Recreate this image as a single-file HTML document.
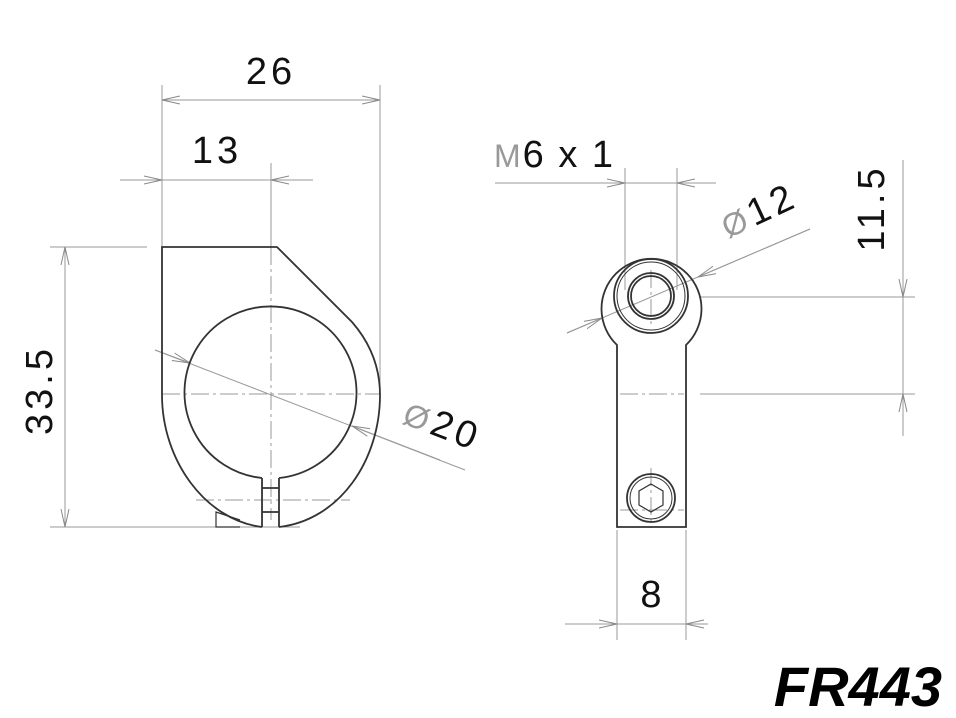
<!DOCTYPE html>
<html><head><meta charset="utf-8"><style>html,body{margin:0;padding:0;background:#fff}svg{display:block}</style></head><body>
<svg width="956" height="718" viewBox="0 0 956 718" xmlns="http://www.w3.org/2000/svg" font-family="Liberation Sans, sans-serif">
<defs>
<marker id="a" markerWidth="20" markerHeight="12" refX="18" refY="6" orient="auto-start-reverse" markerUnits="userSpaceOnUse"><path d="M0,2 L18,6 L0,10" fill="none" stroke="#888" stroke-width="1"/></marker>
</defs>
<g stroke="#999" stroke-width="1" fill="none">
<line x1="162" y1="85" x2="162" y2="247"/><line x1="380" y1="85" x2="380" y2="395"/>
<line x1="162" y1="100" x2="380" y2="100" marker-start="url(#a)" marker-end="url(#a)"/>
<line x1="120" y1="180" x2="162" y2="180" marker-end="url(#a)"/>
<line x1="313" y1="180" x2="271" y2="180" marker-end="url(#a)"/>
<line x1="162" y1="180" x2="271" y2="180"/>
<line x1="271" y1="163" x2="271" y2="247"/>
<line x1="50" y1="247" x2="147" y2="247"/><line x1="50" y1="527" x2="300" y2="527"/>
<line x1="65" y1="247" x2="65" y2="527" marker-start="url(#a)" marker-end="url(#a)"/>
<line x1="155" y1="350" x2="465" y2="470"/>
<line x1="155" y1="350" x2="190" y2="363" marker-end="url(#a)"/>
<line x1="440" y1="460" x2="352" y2="426" marker-end="url(#a)"/>
<line x1="495" y1="183" x2="625" y2="183" marker-end="url(#a)"/>
<line x1="716" y1="183" x2="677" y2="183" marker-end="url(#a)"/>
<line x1="625" y1="183" x2="677" y2="183"/>
<line x1="625" y1="168" x2="625" y2="290"/><line x1="677" y1="168" x2="677" y2="290"/>
<line x1="567" y1="333" x2="810" y2="229"/>
<line x1="567" y1="333" x2="602" y2="318" marker-end="url(#a)"/>
<line x1="810" y1="229" x2="698" y2="277" marker-end="url(#a)"/>
<line x1="700" y1="297" x2="915" y2="297"/><line x1="700" y1="394" x2="915" y2="394"/>
<line x1="903" y1="160" x2="903" y2="297" marker-end="url(#a)"/>
<line x1="903" y1="436" x2="903" y2="394" marker-end="url(#a)"/>
<line x1="903" y1="297" x2="903" y2="394"/>
<line x1="617" y1="530" x2="617" y2="640"/><line x1="686" y1="530" x2="686" y2="640"/>
<line x1="565" y1="624" x2="617" y2="624" marker-end="url(#a)"/>
<line x1="708" y1="624" x2="686" y2="624" marker-end="url(#a)"/>
<line x1="617" y1="624" x2="686" y2="624"/>
<g stroke-dasharray="18,4,3,4">
<line x1="271" y1="247" x2="271" y2="520"/>
<line x1="162" y1="394" x2="380" y2="394"/>
<line x1="196" y1="500" x2="350" y2="500"/>
<line x1="651" y1="270" x2="651" y2="325"/>
<line x1="620" y1="394" x2="684" y2="394"/>
<line x1="651" y1="468" x2="651" y2="528"/>
<line x1="620" y1="510" x2="684" y2="510"/>
</g>
</g>
<g stroke="#333" stroke-width="1.8" fill="none">
<path d="M162,395 L162,247 L277,247 L352,322 C372,345 380,370 380,395 C380,460 340,520 279,527"/>
<path d="M162,395 C162,460 205,520 262,527"/>
<path d="M262,478 A86,86 0 1 1 279,478"/>
<path d="M262,478 L262,527 M279,478 L279,527 M262,488 L279,488 M262,512 L279,512"/>
<path d="M240,520 L216,512 L216,527 L240,527" stroke-width="1.2"/>
</g>
<g stroke="#333" stroke-width="1.8" fill="none">
<path d="M617,345 A50,50 0 1 1 686,345 L686,527 L617,527 Z"/>
<circle cx="651" cy="296" r="37"/>
<circle cx="651" cy="296" r="34" stroke-width="1"/>
<circle cx="651" cy="296" r="23"/>
<circle cx="651" cy="296" r="20"/>
<circle cx="651" cy="498" r="24"/>
<circle cx="651" cy="498" r="21" stroke-width="1"/>
<path d="M651,484 L663,491 L663,505 L651,512 L639,505 L639,491 Z" stroke-width="1.2"/>
</g>
<g fill="#111" font-size="38">
<text x="271" y="84" text-anchor="middle" letter-spacing="4">26</text>
<text x="217" y="163" text-anchor="middle" letter-spacing="4">13</text>
<text transform="translate(52,390) rotate(-90)" text-anchor="middle" letter-spacing="4">33.5</text>
<text transform="translate(438,437) rotate(21)" text-anchor="middle" letter-spacing="4"><tspan fill="#999" font-size="32">Ø</tspan>20</text>
<text x="494" y="167" letter-spacing="2"><tspan fill="#999" font-size="32">M</tspan>6 x 1</text>
<text transform="translate(764,222) rotate(-25)" text-anchor="middle" letter-spacing="4"><tspan fill="#999" font-size="32">Ø</tspan>12</text>
<text transform="translate(884,208) rotate(-90)" text-anchor="middle" letter-spacing="4">11.5</text>
<text x="651" y="607" text-anchor="middle">8</text>
<text x="942" y="706" text-anchor="end" font-size="56" font-weight="bold" font-style="italic" fill="#000">FR443</text>
</g>
</svg>
</body></html>
